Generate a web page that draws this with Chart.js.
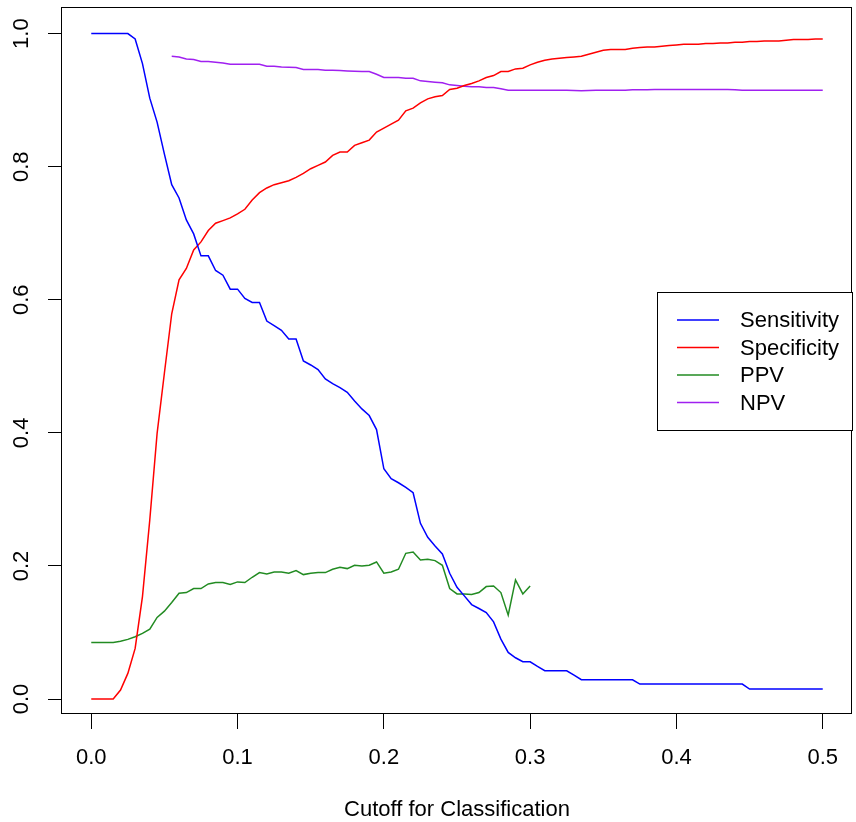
<!DOCTYPE html>
<html>
<head>
<meta charset="utf-8">
<script src="https://cdn.jsdelivr.net/npm/chart.js@4.4.0/dist/chart.umd.min.js"></script>
<style>
  html, body { margin: 0; padding: 0; background: #ffffff; }
  #wrap { width: 856px; height: 822px; }
</style>
</head>
<body>
<div id="wrap"><canvas id="myChart" width="856" height="822"></canvas></div>
<script>
'use strict';

//Global Variables
var cutoffs = [0, 0.005, 0.01, 0.015, 0.02, 0.025, 0.03, 0.035, 0.04, 0.045,
  0.05, 0.055, 0.06, 0.065, 0.07, 0.075, 0.08, 0.085, 0.09, 0.095,
  0.1, 0.105, 0.11, 0.115, 0.12, 0.125, 0.13, 0.135, 0.14, 0.145,
  0.15, 0.155, 0.16, 0.165, 0.17, 0.175, 0.18, 0.185, 0.19, 0.195,
  0.2, 0.205, 0.21, 0.215, 0.22, 0.225, 0.23, 0.235, 0.24, 0.245,
  0.25, 0.255, 0.26, 0.265, 0.27, 0.275, 0.28, 0.285, 0.29, 0.295,
  0.3, 0.305, 0.31, 0.315, 0.32, 0.325, 0.33, 0.335, 0.34, 0.345,
  0.35, 0.355, 0.36, 0.365, 0.37, 0.375, 0.38, 0.385, 0.39, 0.395,
  0.4, 0.405, 0.41, 0.415, 0.42, 0.425, 0.43, 0.435, 0.44, 0.445,
  0.45, 0.455, 0.46, 0.465, 0.47, 0.475, 0.48, 0.485, 0.49, 0.495, 0.5];

var sensitivity = [1, 1, 1, 1, 1, 1, 0.992, 0.955, 0.903, 0.867,
  0.819, 0.773, 0.753, 0.720, 0.699, 0.666, 0.666, 0.644, 0.637, 0.616,
  0.616, 0.602, 0.596, 0.596, 0.568, 0.561, 0.554, 0.541, 0.541, 0.508,
  0.502, 0.495, 0.481, 0.474, 0.468, 0.461, 0.448, 0.436, 0.426, 0.405,
  0.346, 0.331, 0.325, 0.318, 0.310, 0.264, 0.243, 0.230, 0.218, 0.189,
  0.168, 0.155, 0.142, 0.136, 0.130, 0.116, 0.090, 0.070, 0.062, 0.056,
  0.056, 0.049, 0.0425, 0.0425, 0.0425, 0.0425, 0.036, 0.029, 0.029, 0.029,
  0.029, 0.029, 0.029, 0.029, 0.029, 0.0225, 0.0225, 0.0225, 0.0225, 0.0225,
  0.0225, 0.0225, 0.0225, 0.0225, 0.0225, 0.0225, 0.0225, 0.0225, 0.0225, 0.0225,
  0.015, 0.015, 0.015, 0.015, 0.015, 0.015, 0.015, 0.015, 0.015, 0.015, 0.015];

var specificity = [0, 0, 0, 0, 0.0135, 0.0385, 0.076, 0.154, 0.269, 0.399,
  0.490, 0.579, 0.630, 0.647, 0.675, 0.687, 0.704, 0.715, 0.719, 0.723,
  0.729, 0.736, 0.750, 0.761, 0.768, 0.773, 0.776, 0.779, 0.784, 0.790,
  0.797, 0.802, 0.807, 0.817, 0.822, 0.822, 0.832, 0.836, 0.840, 0.852,
  0.858, 0.864, 0.870, 0.884, 0.888, 0.896, 0.902, 0.905, 0.907, 0.916,
  0.918, 0.922, 0.925, 0.929, 0.934, 0.937, 0.943, 0.943, 0.947, 0.948,
  0.953, 0.957, 0.960, 0.962, 0.963, 0.964, 0.965, 0.966, 0.969, 0.972,
  0.975, 0.976, 0.976, 0.976, 0.978, 0.979, 0.980, 0.980, 0.981, 0.982,
  0.983, 0.984, 0.984, 0.984, 0.985, 0.985, 0.986, 0.986, 0.987, 0.987,
  0.988, 0.988, 0.989, 0.989, 0.989, 0.990, 0.991, 0.991, 0.991, 0.992, 0.992];

// PPV stops after 0.3
var ppv = [0.085, 0.085, 0.085, 0.085, 0.0867, 0.0896, 0.0936, 0.0986, 0.105, 0.1227,
  0.132, 0.145, 0.159, 0.160, 0.166, 0.166, 0.173, 0.175, 0.175, 0.172,
  0.176, 0.175, 0.183, 0.190, 0.188, 0.191, 0.191, 0.189, 0.193, 0.187,
  0.189, 0.190, 0.190, 0.195, 0.198, 0.196, 0.201, 0.200, 0.201, 0.206,
  0.189, 0.191, 0.195, 0.219, 0.221, 0.209, 0.210, 0.208, 0.201, 0.166,
  0.158, 0.158, 0.157, 0.160, 0.169, 0.170, 0.160, 0.126, 0.179, 0.158,
  0.170, null, null, null, null, null, null, null, null, null,
  null, null, null, null, null, null, null, null, null, null,
  null, null, null, null, null, null, null, null, null, null,
  null, null, null, null, null, null, null, null, null, null, null];

// NPV starts at 0.055
var npv = [null, null, null, null, null, null, null, null, null, null,
  null, 0.966, 0.965, 0.962, 0.961, 0.958, 0.958, 0.957, 0.956, 0.954,
  0.954, 0.954, 0.954, 0.954, 0.951, 0.951, 0.950, 0.9495, 0.949, 0.946,
  0.946, 0.946, 0.945, 0.945, 0.9445, 0.944, 0.9435, 0.943, 0.943, 0.939,
  0.934, 0.934, 0.934, 0.933, 0.933, 0.929, 0.928, 0.927, 0.926, 0.923,
  0.922, 0.921, 0.920, 0.920, 0.919, 0.919, 0.917, 0.915, 0.915, 0.915,
  0.915, 0.915, 0.915, 0.915, 0.915, 0.915, 0.9145, 0.914, 0.9145, 0.915,
  0.915, 0.915, 0.915, 0.915, 0.9155, 0.9155, 0.9155, 0.916, 0.916, 0.916,
  0.916, 0.916, 0.916, 0.916, 0.916, 0.916, 0.916, 0.916, 0.9155, 0.915,
  0.915, 0.915, 0.915, 0.915, 0.915, 0.915, 0.915, 0.915, 0.915, 0.915, 0.915];

var seriesNames = ['Sensitivity', 'Specificity', 'PPV', 'NPV'];
var seriesColors = ['#0000ff', '#ff0000', '#228b22', '#a020f0'];
var xTicks = [0, 0.1, 0.2, 0.3, 0.4, 0.5];
var yTicks = [0, 0.2, 0.4, 0.6, 0.8, 1.0];
var xTitle = 'Cutoff for Classification';

var fontName = '"Liberation Sans", Arial, sans-serif';

//turn one series into x/y points for the linear x scale
function toPoints(values) {
  var out = [];
  for (var i = 0; i < cutoffs.length; i++) {
    out.push({ x: cutoffs[i], y: values[i] });
  }
  return out;
}

function makeDataset(i, values) {
  return {
    label: seriesNames[i],
    data: toPoints(values),
    borderColor: seriesColors[i],
    backgroundColor: seriesColors[i],
    borderWidth: 1.5,
    pointRadius: 0,
    tension: 0,
    spanGaps: false
  };
}

// stop chart.js from reserving room for half labels at the scale ends
function noEndPadding(scale) {
  scale.paddingTop = 0;
  scale.paddingBottom = 0;
  scale.paddingLeft = 0;
  scale.paddingRight = 0;
}

// box around the plot plus the legend in the R style
var boxAndLegend = {
  id: 'boxAndLegend',
  afterDraw: function (chart) {
    var c = chart.ctx;
    var a = chart.chartArea;
    c.save();
    c.strokeStyle = '#000000';
    c.lineWidth = 1;
    c.strokeRect(Math.round(a.left) - 0.5, Math.round(a.top) + 0.5,
      Math.round(a.right - a.left), Math.round(a.bottom - a.top) - 1);

    // legend box
    var lx = 657;
    var ly = 292;
    c.fillStyle = '#ffffff';
    c.fillRect(lx, ly, 195, 138);
    c.strokeRect(lx + 0.5, ly + 0.5, 195, 138);
    c.font = '22px ' + fontName;
    c.textBaseline = 'middle';
    c.textAlign = 'left';
    var sets = chart.data.datasets;
    for (var i = 0; i < sets.length; i++) {
      var rowY = 320 + i * 27.5;
      c.strokeStyle = sets[i].borderColor;
      c.lineWidth = 1.5;
      c.beginPath();
      c.moveTo(677, rowY);
      c.lineTo(719, rowY);
      c.stroke();
      c.fillStyle = '#000000';
      c.fillText(sets[i].label, 740, rowY + 1);
    }
    c.restore();
  }
};

var ctx = document.getElementById('myChart').getContext('2d');

var chart = new Chart(ctx, {
  type: 'line',
  data: {
    datasets: [
      makeDataset(0, sensitivity),
      makeDataset(1, specificity),
      makeDataset(2, ppv),
      makeDataset(3, npv)
    ]
  },
  options: {
    responsive: false,
    animation: false,
    layout: { padding: { top: 7, right: 4, left: 0, bottom: 0 } },
    plugins: {
      legend: { display: false },
      tooltip: { enabled: false }
    },
    scales: {
      x: {
        type: 'linear',
        min: -0.02,
        max: 0.52,
        afterFit: function (scale) {
          scale.height = 108;
          noEndPadding(scale);
        },
        afterBuildTicks: function (scale) {
          scale.ticks = xTicks.map(function (v) { return { value: v }; });
        },
        grid: { drawOnChartArea: false, color: '#000000', tickLength: 15, lineWidth: 1 },
        border: { display: false },
        ticks: {
          color: '#000000',
          font: { family: fontName, size: 22 },
          padding: 16,
          maxRotation: 0,
          minRotation: 0,
          callback: function (v) { return v.toFixed(1); }
        },
        title: {
          display: true,
          text: xTitle,
          color: '#000000',
          font: { family: fontName, size: 22, lineHeight: 1.1 },
          padding: { top: 0, bottom: 0 }
        }
      },
      y: {
        type: 'linear',
        min: -0.0225,
        max: 1.04,
        afterFit: function (scale) {
          scale.width = 62;
          noEndPadding(scale);
        },
        afterBuildTicks: function (scale) {
          scale.ticks = yTicks.map(function (v) { return { value: v }; });
        },
        grid: { drawOnChartArea: false, color: '#000000', tickLength: 14, lineWidth: 1 },
        border: { display: false },
        ticks: {
          color: '#000000',
          font: { family: fontName, size: 22 },
          padding: 11,
          crossAlign: 'center',
          minRotation: 90,
          maxRotation: 90,
          callback: function (v) { return v.toFixed(1); }
        }
      }
    }
  },
  plugins: [boxAndLegend]
});
</script>
</body>
</html>
